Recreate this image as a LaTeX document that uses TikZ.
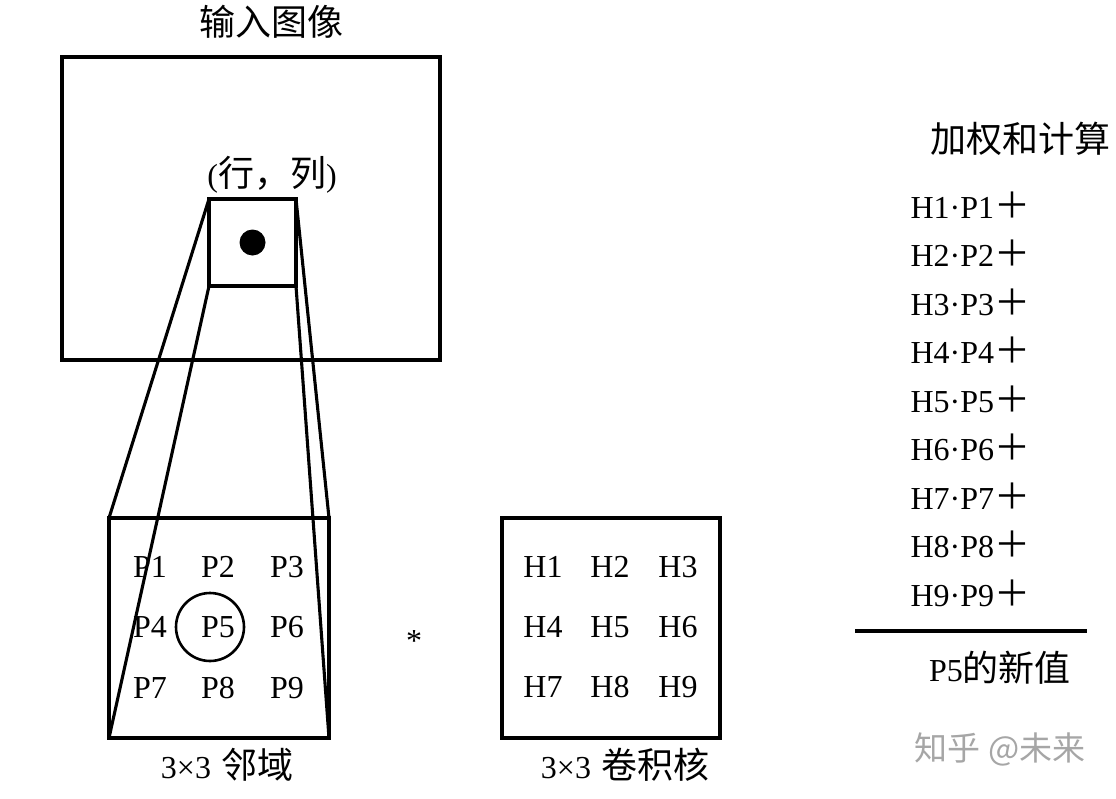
\documentclass[tikz,border=0pt]{standalone}
\usepackage{fontspec}
\setmainfont{Liberation Serif}
\newfontfamily\cjk{Noto Sans CJK SC}
\usetikzlibrary{positioning}
\tikzset{
    frame/.style={rectangle, draw, outer sep=0pt, inner sep=0pt},
    cell/.style={font=\fontsize{32}{32}\selectfont, inner sep=0pt},
    txt/.style={font=\fontsize{32}{32}\selectfont, inner sep=0pt},
    term/.style={font=\fontsize{32}{32}\selectfont, inner sep=0pt, anchor=west},
    hanzi/.style={font=\fontsize{36}{36}\selectfont\cjk, inner sep=0pt}
}
\newcommand{\hz}[1]{{\fontsize{36}{36}\selectfont\cjk #1}}

\begin{document}
\begin{tikzpicture}[x=1pt, y=-1pt, line width=3.1pt]
\useasboundingbox (0,0) rectangle (1116,798);

% Input image and the 3x3 window round the pixel
\node[hanzi] (title) at (271,22) {输入图像};
\node[frame, minimum width=378, minimum height=303] (img) at (251,208.5) {};
\node[txt] (rc) at (272,175) {(\hz{行，列})};
\node[frame, minimum size=87] (win) at (252.5,242.5) {};
\node[circle, fill, minimum size=26, inner sep=0pt] (pix) at (win.center) {};

% 3x3 neighbourhood
\node[frame, minimum size=220] (nbh) at (219,628) {};
\node[cell] (p1) at (150,567) {P1}; \node[cell] (p2) at (218,567) {P2}; \node[cell] (p3) at (287,567) {P3};
\node[cell] (p4) at (150,627) {P4}; \node[cell] (p5) at (218,627) {P5}; \node[cell] (p6) at (287,627) {P6};
\node[cell] (p7) at (150,688) {P7}; \node[cell] (p8) at (218,688) {P8}; \node[cell] (p9) at (287,688) {P9};
\node[circle, draw, minimum size=68, line width=2.6pt] (ring) at (210,627) {};
\node[txt] (nlab) at (227,765) {3×3\hspace{10pt}\hz{邻域}};

% lines from the window down to the neighbourhood
\draw (win.north west) -- (nbh.north west);
\draw (win.south west) -- (nbh.south west);
\draw (win.north east) -- (nbh.north east);
\draw (win.south east) -- (nbh.south east);

\node[txt] (conv) at (414,641) {*};

% 3x3 kernel
\node[frame, minimum width=218, minimum height=220] (ker) at (611,628) {};
\node[cell] (h1) at (543,567) {H1}; \node[cell] (h2) at (610,567) {H2}; \node[cell] (h3) at (678,567) {H3};
\node[cell] (h4) at (543,627) {H4}; \node[cell] (h5) at (610,627) {H5}; \node[cell] (h6) at (678,627) {H6};
\node[cell] (h7) at (543,687) {H7}; \node[cell] (h8) at (610,687) {H8}; \node[cell] (h9) at (678,687) {H9};
\node[txt] (klab) at (625,765) {3×3\hspace{10pt}\hz{卷积核}};

% weighted sum
\node[hanzi] (sum) at (1020,139) {加权和计算};
\node[term] (t1) at (909,205) {H1·P1\hz{＋}};
\node[term] (t2) at (909,253.5) {H2·P2\hz{＋}};
\node[term] (t3) at (909,302) {H3·P3\hz{＋}};
\node[term] (t4) at (909,350.5) {H4·P4\hz{＋}};
\node[term] (t5) at (909,399) {H5·P5\hz{＋}};
\node[term] (t6) at (909,447.5) {H6·P6\hz{＋}};
\node[term] (t7) at (909,496) {H7·P7\hz{＋}};
\node[term] (t8) at (909,544.5) {H8·P8\hz{＋}};
\node[term] (t9) at (909,593) {H9·P9\hz{＋}};
\coordinate (bl) at (855,631);
\coordinate (br) at (1087,631);
\draw (bl) -- (br);
\node[txt] (res) at (1000,668) {P5\hz{的新值}};

\node[font=\fontsize{33}{33}\selectfont\cjk, text=black!35, inner sep=0pt] (mark) at (1000,749) {知乎 @未来};
\end{tikzpicture}
\end{document}
